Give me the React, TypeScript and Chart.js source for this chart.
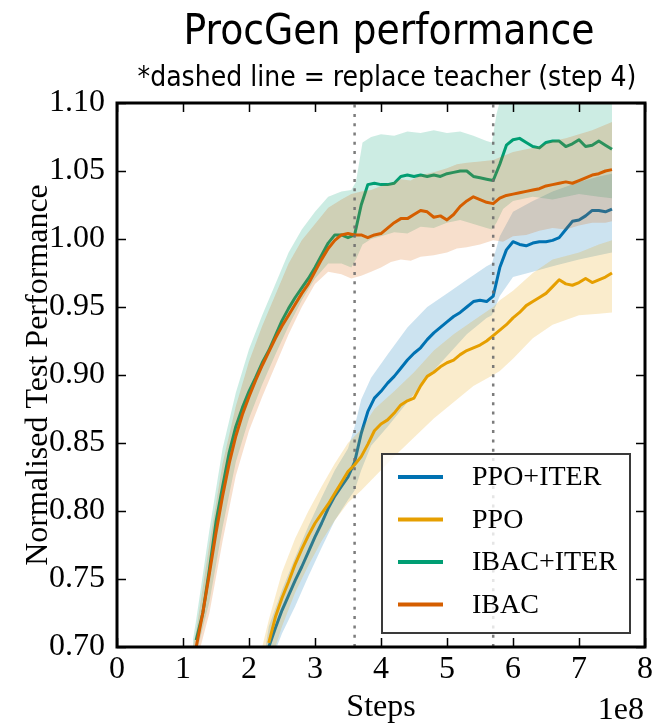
import React, { useEffect, useRef } from "react";
import { Chart, registerables } from "chart.js";

Chart.register(...registerables);

// ---------------- data ----------------
const seriesLabels = ["PPO+ITER", "PPO", "IBAC+ITER", "IBAC"];
const seriesColors = ["#0072B2", "#E69F00", "#009E73", "#D55E00"];
const bandColors = [
  "rgba(0,114,178,0.2)",
  "rgba(230,159,0,0.2)",
  "rgba(0,158,115,0.2)",
  "rgba(213,94,0,0.2)",
];

const ibacSteps = [
  1.2, 1.3, 1.4, 1.5, 1.6, 1.7, 1.8, 1.9, 2.0, 2.1, 2.2, 2.3, 2.4, 2.5, 2.6, 2.7,
  2.8, 2.9, 3.0, 3.1, 3.2, 3.3, 3.4, 3.5, 3.6, 3.7, 3.8, 3.9, 4.0, 4.1, 4.2, 4.3,
  4.4, 4.5, 4.6, 4.7, 4.8, 4.9, 5.0, 5.1, 5.2, 5.3, 5.4, 5.5, 5.6, 5.7, 5.8, 5.9,
  6.0, 6.1, 6.2, 6.3, 6.4, 6.5, 6.6, 6.7, 6.8, 6.9, 7.0, 7.1, 7.2, 7.3, 7.4, 7.5,
];
const ibacIterMean = [
  0.705, 0.725, 0.757, 0.792, 0.818, 0.843, 0.862, 0.876, 0.888, 0.898, 0.909, 0.918, 0.929, 0.94, 0.949, 0.957,
  0.964, 0.971, 0.979, 0.988, 0.997, 1.003, 1.003, 1.001, 1.003, 1.025, 1.04, 1.041, 1.04, 1.04, 1.041, 1.046,
  1.047, 1.046, 1.047, 1.046, 1.047, 1.046, 1.048, 1.049, 1.05, 1.05, 1.046, 1.045, 1.044, 1.043, 1.055, 1.069,
  1.073, 1.074, 1.071, 1.068, 1.067, 1.071, 1.072, 1.072, 1.068, 1.07, 1.073, 1.068, 1.069, 1.072, 1.069, 1.066,
];
const ibacMean = [
  0.7, 0.725, 0.754, 0.784, 0.811, 0.835, 0.855, 0.871, 0.884, 0.896, 0.907, 0.917, 0.927, 0.936, 0.944, 0.952,
  0.96, 0.967, 0.976, 0.985, 0.993, 0.999, 1.003, 1.004, 1.003, 1.003, 1.001, 1.003, 1.004, 1.008, 1.012, 1.015,
  1.015, 1.018, 1.021, 1.02, 1.016, 1.017, 1.014, 1.018, 1.024, 1.028, 1.031, 1.029, 1.027, 1.026, 1.03, 1.032,
  1.033, 1.034, 1.035, 1.036, 1.037, 1.039, 1.04, 1.041, 1.042, 1.041, 1.043, 1.045, 1.047, 1.048, 1.05, 1.051,
];

const ppoSteps = [
  2.3, 2.4, 2.5, 2.6, 2.7, 2.8, 2.9, 3.0, 3.1, 3.2, 3.3, 3.4, 3.5, 3.6, 3.7, 3.8,
  3.9, 4.0, 4.1, 4.2, 4.3, 4.4, 4.5, 4.6, 4.7, 4.8, 4.9, 5.0, 5.1, 5.2, 5.3, 5.4,
  5.5, 5.6, 5.7, 5.8, 5.9, 6.0, 6.1, 6.2, 6.3, 6.4, 6.5, 6.6, 6.7, 6.8, 6.9, 7.0,
  7.1, 7.2, 7.3, 7.4, 7.5,
];
const ppoIterMean = [
  0.7, 0.714, 0.727, 0.738, 0.749, 0.759, 0.77, 0.781, 0.791, 0.802, 0.811, 0.818, 0.825, 0.836, 0.857, 0.873,
  0.883, 0.888, 0.894, 0.899, 0.905, 0.911, 0.916, 0.92, 0.926, 0.931, 0.935, 0.939, 0.943, 0.946, 0.95, 0.954,
  0.955, 0.954, 0.958, 0.979, 0.992, 0.998, 0.996, 0.995, 0.997, 0.998, 0.998, 0.999, 1.001, 1.007, 1.013, 1.014,
  1.017, 1.021, 1.021, 1.02, 1.022,
];
const ppoMean = [
  0.703, 0.722, 0.736, 0.748, 0.761, 0.772, 0.782, 0.791, 0.798, 0.805, 0.813, 0.821, 0.829, 0.834, 0.84, 0.849,
  0.859, 0.864, 0.867, 0.872, 0.878, 0.881, 0.883, 0.892, 0.899, 0.902, 0.906, 0.909, 0.911, 0.915, 0.918, 0.92,
  0.922, 0.925, 0.929, 0.933, 0.937, 0.942, 0.946, 0.951, 0.954, 0.957, 0.96, 0.965, 0.97, 0.967, 0.966, 0.968,
  0.971, 0.968, 0.97, 0.972, 0.975,
];

// shaded spread bands
const ppoIterBandSteps = [2.25, 2.3, 2.5, 2.7, 2.9, 3.1, 3.3, 3.5, 3.6, 3.7, 3.85, 4.1, 4.4, 4.7, 5.0, 5.3, 5.6, 5.68, 5.8, 6.0, 6.3, 6.6, 7.0, 7.3, 7.5];
const ppoIterLower = [0.68, 0.685, 0.71, 0.73, 0.752, 0.773, 0.793, 0.808, 0.815, 0.83, 0.848, 0.862, 0.88, 0.898, 0.914, 0.93, 0.942, 0.944, 0.958, 0.972, 0.976, 0.98, 0.985, 0.988, 0.99];
const ppoIterUpper = [0.7, 0.715, 0.742, 0.766, 0.789, 0.81, 0.83, 0.846, 0.862, 0.882, 0.898, 0.915, 0.935, 0.95, 0.96, 0.97, 0.98, 0.982, 1.002, 1.02, 1.028, 1.035, 1.042, 1.046, 1.048];

const ppoBandSteps = [2.2, 2.3, 2.5, 2.7, 2.9, 3.1, 3.3, 3.5, 3.7, 3.9, 4.2, 4.5, 4.8, 5.1, 5.4, 5.7, 5.8, 6.0, 6.3, 6.6, 7.0, 7.3, 7.5];
const ppoLower = [0.68, 0.685, 0.715, 0.74, 0.76, 0.778, 0.793, 0.806, 0.815, 0.825, 0.84, 0.854, 0.868, 0.88, 0.892, 0.9, 0.903, 0.912, 0.927, 0.937, 0.944, 0.945, 0.946];
const ppoUpper = [0.7, 0.72, 0.755, 0.78, 0.8, 0.818, 0.835, 0.85, 0.86, 0.875, 0.888, 0.902, 0.918, 0.93, 0.94, 0.95, 0.955, 0.962, 0.975, 0.985, 0.99, 0.996, 0.999];

const ibacIterBandSteps = [1.15, 1.2, 1.4, 1.6, 1.8, 2.0, 2.2, 2.4, 2.6, 2.8, 3.0, 3.2, 3.4, 3.55, 3.62, 3.72, 3.85, 4.0, 4.2, 4.4, 4.6, 4.8, 5.0, 5.2, 5.4, 5.6, 5.68, 5.75, 5.85, 6.0, 6.3, 6.6, 7.0, 7.3, 7.5];
const ibacIterLower = [0.68, 0.695, 0.733, 0.788, 0.836, 0.868, 0.893, 0.915, 0.936, 0.955, 0.971, 0.982, 0.982, 0.979, 0.985, 0.996, 1.0, 1.002, 1.005, 1.004, 1.009, 1.008, 1.012, 1.014, 1.011, 1.008, 1.007, 1.012, 1.022, 1.028, 1.031, 1.029, 1.033, 1.031, 1.03];
const ibacIterUpper = [0.705, 0.72, 0.786, 0.846, 0.887, 0.919, 0.944, 0.967, 0.99, 1.007, 1.02, 1.031, 1.035, 1.036, 1.042, 1.071, 1.075, 1.077, 1.076, 1.079, 1.078, 1.08, 1.078, 1.079, 1.076, 1.072, 1.071, 1.092, 1.11, 1.12, 1.12, 1.12, 1.12, 1.12, 1.12];

const ibacBandSteps = [1.15, 1.2, 1.4, 1.6, 1.8, 2.0, 2.2, 2.4, 2.6, 2.8, 3.0, 3.2, 3.4, 3.55, 3.7, 3.85, 4.0, 4.15, 4.3, 4.45, 4.6, 4.8, 5.0, 5.15, 5.3, 5.5, 5.7, 5.85, 6.0, 6.2, 6.4, 6.6, 6.8, 7.0, 7.2, 7.4, 7.5];
const ibacLower = [0.675, 0.688, 0.725, 0.778, 0.826, 0.859, 0.884, 0.907, 0.93, 0.95, 0.967, 0.976, 0.974, 0.971, 0.973, 0.976, 0.979, 0.983, 0.985, 0.984, 0.987, 0.988, 0.99, 0.993, 0.994, 0.996, 0.999, 0.998, 1.002, 1.003, 1.006, 1.008, 1.007, 1.01, 1.012, 1.012, 1.013];
const ibacUpper = [0.7, 0.712, 0.776, 0.835, 0.877, 0.91, 0.936, 0.959, 0.982, 0.999, 1.011, 1.023, 1.029, 1.033, 1.035, 1.036, 1.039, 1.041, 1.044, 1.043, 1.047, 1.049, 1.052, 1.055, 1.056, 1.057, 1.058, 1.061, 1.064, 1.066, 1.068, 1.072, 1.074, 1.077, 1.08, 1.084, 1.086];

// steps where the teacher is replaced (dotted vertical lines)
const teacherSteps = [3.6, 5.7];

const xMin = 0;
const xMax = 8;
const yMin = 0.7;
const yMax = 1.1;

const titleText = "ProcGen performance";
const subtitleText = "*dashed line = replace teacher (step 4)";
const xTitle = "Steps";
const yTitle = "Normalised Test Performance";
const xOffsetText = "1e8";

// ---------------- helpers ----------------
const SERIF = "'Liberation Serif', 'Times New Roman', Times, serif";
const SANS_COND = "'DejaVu Sans Condensed', 'Liberation Sans Narrow', 'DejaVu Sans', sans-serif";

const toXY = (xs: number[], ys: number[]) => xs.map((x, i) => ({ x, y: ys[i] }));

const series = [
  { steps: ppoSteps, mean: ppoIterMean, bs: ppoIterBandSteps, lo: ppoIterLower, hi: ppoIterUpper },
  { steps: ppoSteps, mean: ppoMean, bs: ppoBandSteps, lo: ppoLower, hi: ppoUpper },
  { steps: ibacSteps, mean: ibacIterMean, bs: ibacIterBandSteps, lo: ibacIterLower, hi: ibacIterUpper },
  { steps: ibacSteps, mean: ibacMean, bs: ibacBandSteps, lo: ibacLower, hi: ibacUpper },
];

function buildDatasets() {
  const ds: any[] = [];
  series.forEach((s, k) => {
    const upperIndex = ds.length;
    ds.push({
      label: seriesLabels[k] + " upper",
      data: toXY(s.bs, s.hi),
      borderWidth: 0,
      borderColor: "rgba(0,0,0,0)",
      backgroundColor: bandColors[k],
      pointRadius: 0,
      fill: upperIndex + 1,
      order: 20 - 3 * k,
    });
    ds.push({
      label: seriesLabels[k] + " lower",
      data: toXY(s.bs, s.lo),
      borderWidth: 0,
      borderColor: "rgba(0,0,0,0)",
      pointRadius: 0,
      fill: false,
      order: 20 - 3 * k,
    });
    ds.push({
      label: seriesLabels[k],
      data: toXY(s.steps, s.mean),
      borderColor: seriesColors[k],
      backgroundColor: seriesColors[k],
      borderWidth: 3,
      pointRadius: 0,
      fill: false,
      tension: 0,
      borderJoinStyle: "round",
      order: 19 - 3 * k,
    });
  });
  teacherSteps.forEach((t) => {
    ds.push({
      label: "teacher",
      data: [
        { x: t, y: yMin },
        { x: t, y: yMax },
      ],
      borderColor: "rgba(110,110,110,0.9)",
      borderWidth: 2.5,
      borderDash: [3, 6.3],
      pointRadius: 0,
      fill: false,
      order: 0,
    });
  });
  return ds;
}

const decorPlugin = {
  id: "decor",
  afterDraw(chart: any) {
    const { ctx, chartArea: a, scales } = chart;
    const xs = scales.x;
    const ys = scales.y;
    ctx.save();

    // frame
    ctx.strokeStyle = "#000";
    ctx.lineWidth = 3;
    ctx.strokeRect(a.left, a.top, a.right - a.left, a.bottom - a.top);

    // inward ticks on all four sides
    ctx.lineWidth = 1.5;
    const tl = 9;
    ctx.beginPath();
    xs.ticks.forEach((t: any) => {
      const px = Math.round(xs.getPixelForValue(t.value)) + 0.5;
      ctx.moveTo(px, a.bottom);
      ctx.lineTo(px, a.bottom - tl);
      ctx.moveTo(px, a.top);
      ctx.lineTo(px, a.top + tl);
    });
    ys.ticks.forEach((t: any) => {
      const py = Math.round(ys.getPixelForValue(t.value)) + 0.5;
      ctx.moveTo(a.left, py);
      ctx.lineTo(a.left + tl, py);
      ctx.moveTo(a.right, py);
      ctx.lineTo(a.right - tl, py);
    });
    ctx.stroke();

    // title and subtitle
    ctx.fillStyle = "#000";
    ctx.textAlign = "center";
    ctx.textBaseline = "alphabetic";
    ctx.font = `42px ${SANS_COND}`;
    ctx.fillText(titleText, 389, 44);
    ctx.font = `28px ${SANS_COND}`;
    ctx.fillText(subtitleText, 387, 86);

    // axis offset text
    ctx.font = `32px ${SERIF}`;
    ctx.textAlign = "right";
    ctx.fillText(xOffsetText, a.right - 1, 719);

    // legend
    const bx = a.right - 263;
    const by = a.bottom - 193;
    const bw = 248;
    const bh = 179;
    ctx.fillStyle = "rgba(255,255,255,0.8)";
    ctx.fillRect(bx, by, bw, bh);
    ctx.strokeStyle = "#3a3a3a";
    ctx.lineWidth = 2;
    ctx.strokeRect(bx, by, bw, bh);
    ctx.font = `28px ${SERIF}`;
    ctx.textAlign = "left";
    ctx.textBaseline = "middle";
    seriesLabels.forEach((lab, k) => {
      const ry = by + 23 + k * 42.5;
      ctx.strokeStyle = seriesColors[k];
      ctx.lineWidth = 4;
      ctx.beginPath();
      ctx.moveTo(bx + 16, ry);
      ctx.lineTo(bx + 61, ry);
      ctx.stroke();
      ctx.fillStyle = "#000";
      ctx.fillText(lab, bx + 90, ry + 1);
    });

    ctx.restore();
  },
};

export default function App() {
  const ref = useRef<HTMLCanvasElement | null>(null);
  useEffect(() => {
    if (!ref.current) return;
    const chart = new Chart(ref.current, {
      type: "line",
      data: { datasets: buildDatasets() },
      options: {
        responsive: false,
        animation: false,
        parsing: true,
        layout: { padding: { top: 103, right: 26, left: 0, bottom: 0 } },
        plugins: {
          legend: { display: false },
          tooltip: { enabled: false },
          title: { display: false },
        },
        scales: {
          x: {
            type: "linear",
            min: xMin,
            max: xMax,
            grid: { display: false },
            border: { display: false },
            ticks: {
              stepSize: 1,
              color: "#000",
              padding: -5,
              font: { family: SERIF, size: 32 },
              callback: (v: any) => String(v),
            },
            title: {
              display: true,
              text: xTitle,
              color: "#000",
              font: { family: SERIF, size: 32, lineHeight: 1.2 },
              padding: { top: 0, bottom: 0 },
            },
            afterFit: (scale: any) => {
              scale.height = 80;
            },
          },
          y: {
            type: "linear",
            min: yMin,
            max: yMax,
            grid: { display: false },
            border: { display: false },
            ticks: {
              stepSize: 0.05,
              color: "#000",
              padding: 4,
              font: { family: SERIF, size: 32 },
              callback: (v: any) => Number(v).toFixed(2),
            },
            title: {
              display: true,
              text: yTitle,
              color: "#000",
              font: { family: SERIF, size: 32, lineHeight: 1.2 },
              padding: { top: 19, bottom: 0 },
            },
            afterFit: (scale: any) => {
              scale.width = 117;
            },
          },
        },
      },
      plugins: [decorPlugin],
    });
    return () => chart.destroy();
  }, []);

  return (
    <div style={{ position: "absolute", left: 0, top: 0, width: 671, height: 727, background: "#fff" }}>
      <canvas ref={ref} width={671} height={727} style={{ width: 671, height: 727, display: "block" }} />
    </div>
  );
}
